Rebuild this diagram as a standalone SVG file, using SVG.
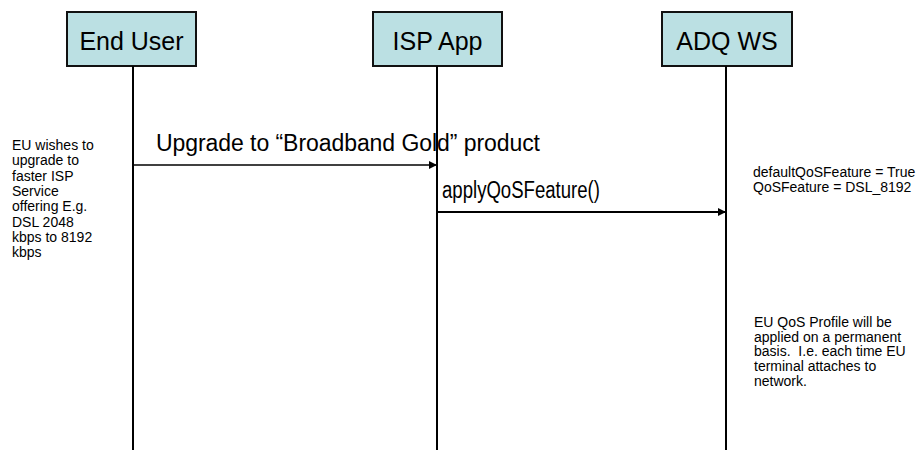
<svg xmlns="http://www.w3.org/2000/svg" width="918" height="450" viewBox="0 0 918 450">
<style>
.box{fill:#BBE0E3;stroke:#111;stroke-width:2}
.lbl{font-family:"Liberation Sans",Arial,sans-serif;font-size:25px;fill:#000;text-anchor:middle}
.life{stroke:#000;stroke-width:2;fill:none}
.msg{font-family:"Liberation Sans",Arial,sans-serif;font-size:23px;fill:#000}
.note{font-family:"Liberation Sans",Arial,sans-serif;font-size:14px;fill:#000;white-space:pre}
</style>
<defs>
<marker id="ah" viewBox="0 0 10 10" refX="10" refY="5" markerWidth="10" markerHeight="8" markerUnits="userSpaceOnUse" orient="auto">
<path d="M0,0 L10,5 L0,10 Z" fill="#000"/>
</marker>
</defs>
<rect width="918" height="450" fill="#fff"/>
<g id="end-user">
<rect class="box" x="67" y="12" width="129" height="54"/>
<text class="lbl" x="131.5" y="50">End User</text>
</g>
<g id="isp-app">
<rect class="box" x="373" y="12" width="129" height="54"/>
<text class="lbl" x="437.5" y="50">ISP App</text>
</g>
<g id="adq-ws">
<rect class="box" x="662" y="12" width="130" height="54"/>
<text class="lbl" x="727" y="50">ADQ WS</text>
</g>
<g id="connectors">
<line class="life" x1="133" y1="66" x2="133" y2="450"/>
<line class="life" x1="437" y1="66" x2="437" y2="450"/>
<line class="life" x1="726" y1="66" x2="726" y2="450"/>
<line x1="133" y1="165" x2="437" y2="165" stroke="#000" stroke-width="1.4" marker-end="url(#ah)"/>
<line x1="437" y1="212" x2="726" y2="212" stroke="#000" stroke-width="2.2" marker-end="url(#ah)"/>
</g>
<g id="labels">
<text class="msg" x="156" y="151" textLength="384" lengthAdjust="spacing">Upgrade to “Broadband Gold” product</text>
<text class="msg" x="442" y="198" font-size="21" textLength="158" lengthAdjust="spacingAndGlyphs">applyQoSFeature()</text>
</g>
<g id="notes">
<text class="note" x="12" y="150">EU wishes to</text>
<text class="note" x="12" y="165.3">upgrade to</text>
<text class="note" x="12" y="180.6">faster ISP</text>
<text class="note" x="12" y="195.9">Service</text>
<text class="note" x="12" y="211.2">offering E.g.</text>
<text class="note" x="12" y="226.5">DSL 2048</text>
<text class="note" x="12" y="241.8">kbps to 8192</text>
<text class="note" x="12" y="257.1">kbps</text>
<text class="note" x="753" y="177">defaultQoSFeature = True</text>
<text class="note" x="753" y="192">QoSFeature = DSL_8192</text>
<text class="note" x="754" y="327">EU QoS Profile will be</text>
<text class="note" x="754" y="341.7">applied on a permanent</text>
<text class="note" x="754" y="356.4">basis.  I.e. each time EU</text>
<text class="note" x="754" y="371.1">terminal attaches to</text>
<text class="note" x="754" y="385.8">network.</text>
</g>
</svg>
